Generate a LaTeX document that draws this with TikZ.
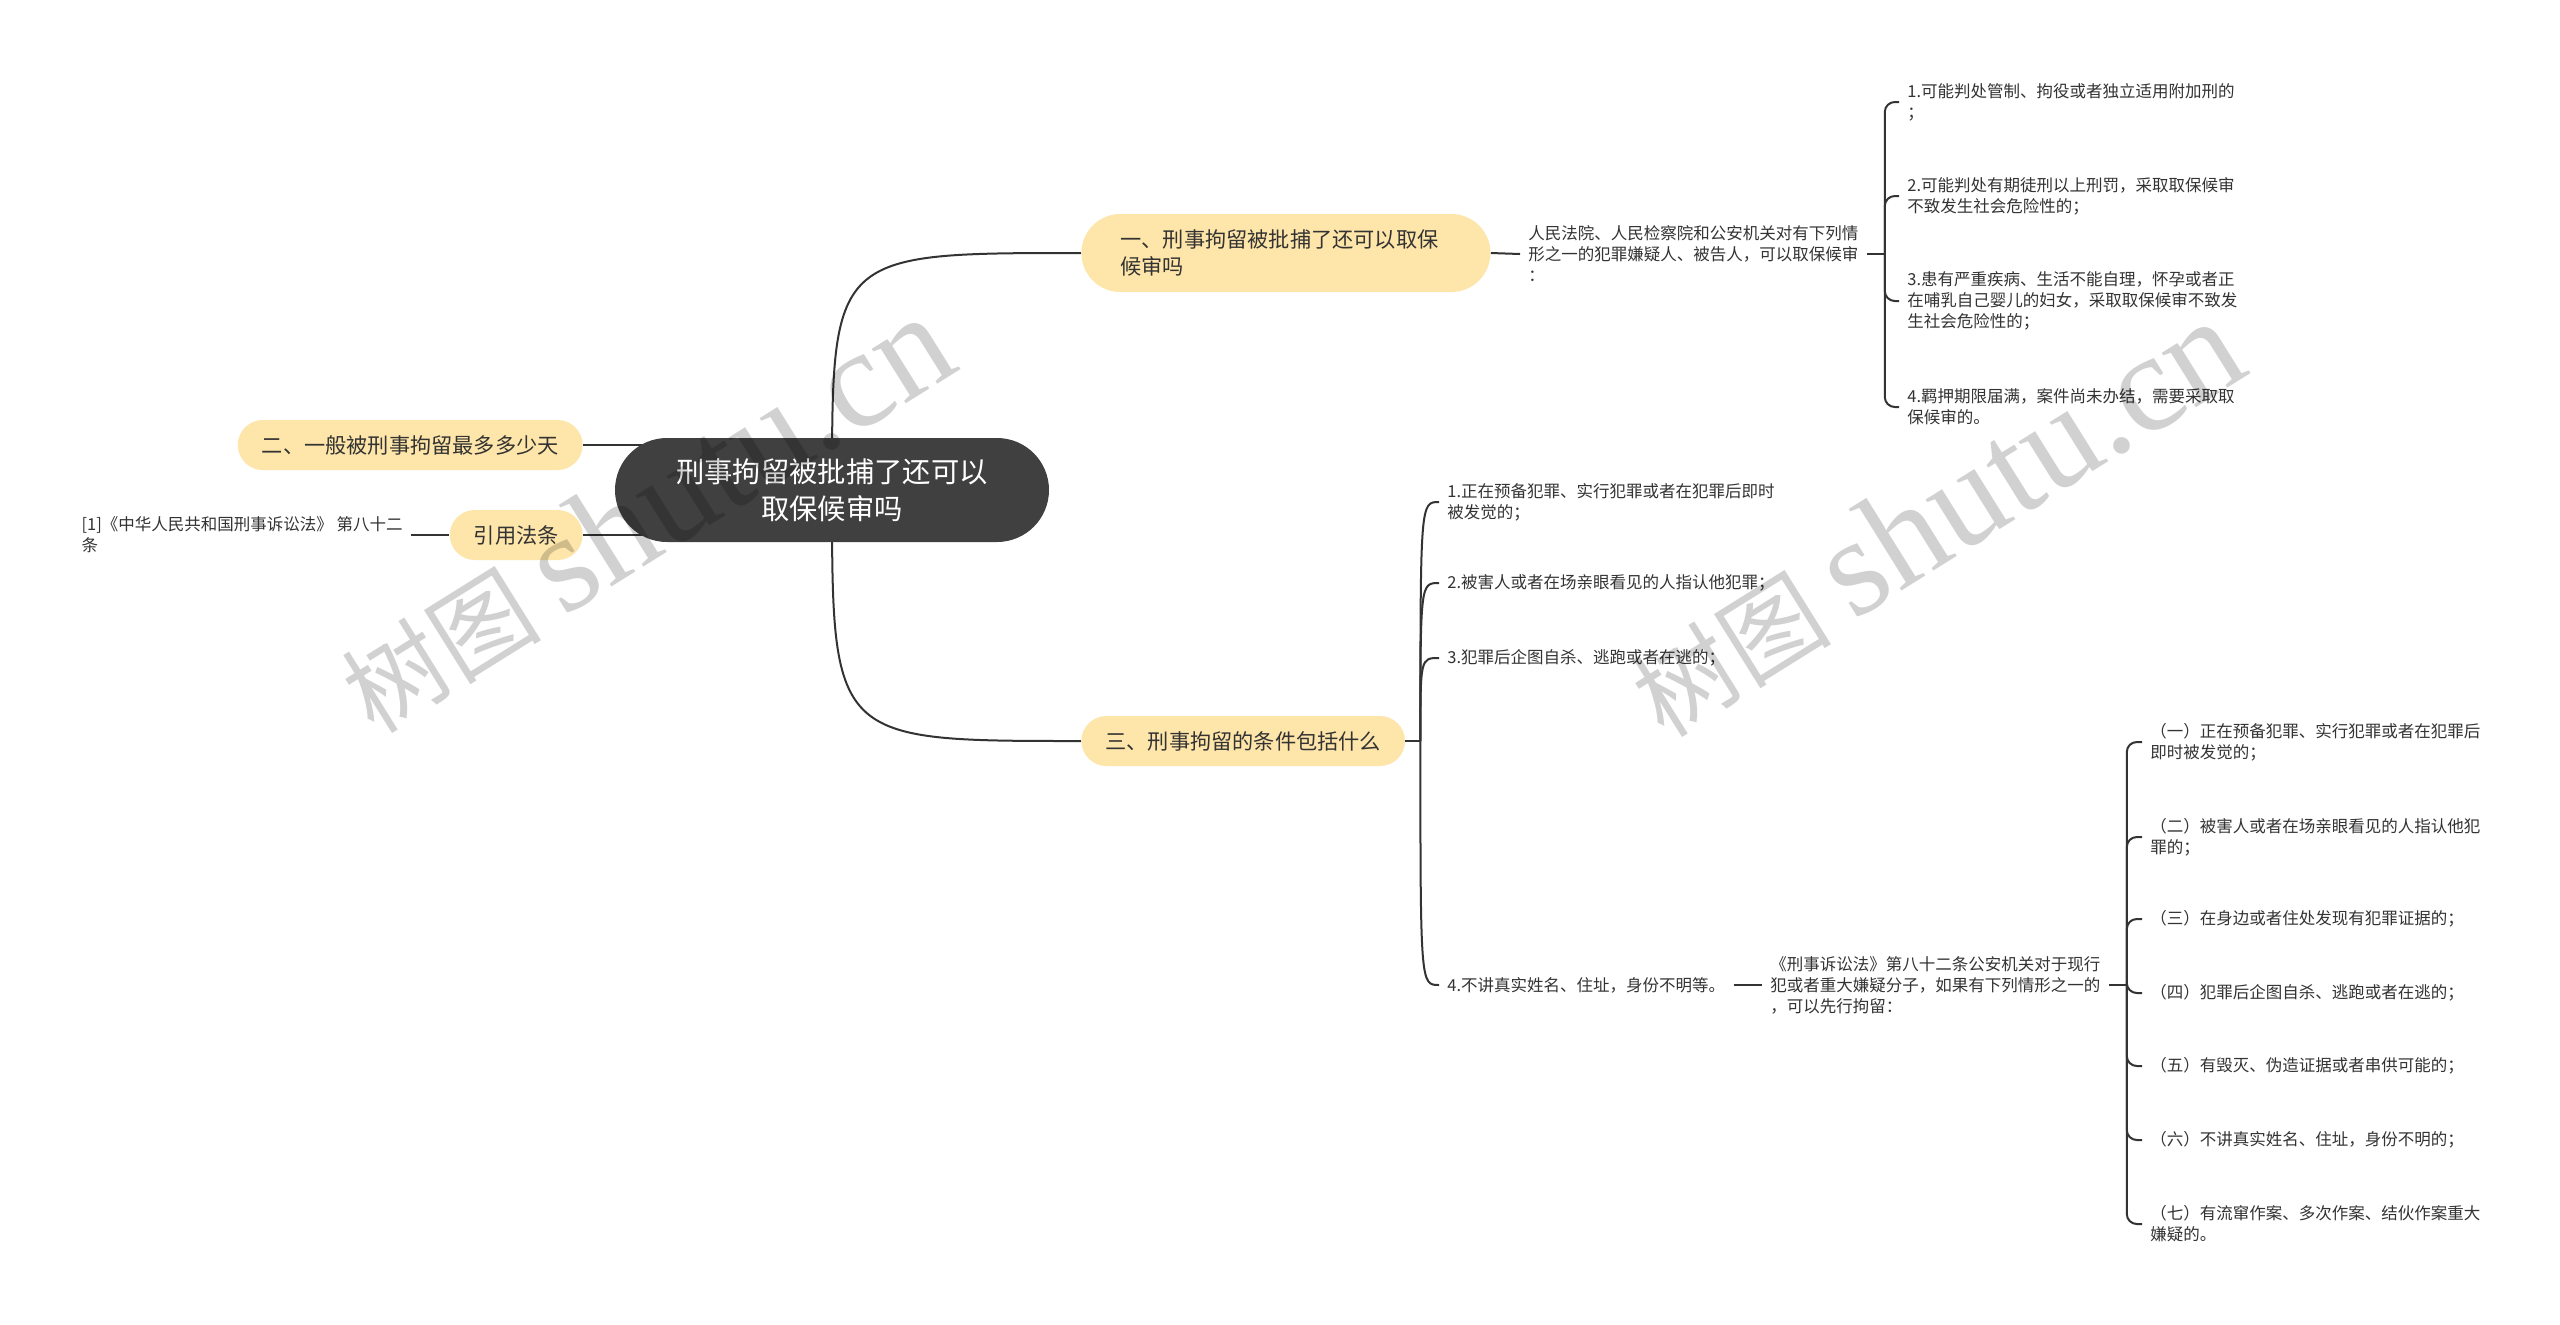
\documentclass[tikz,border=0pt]{standalone}
\usepackage{fontspec}
\setmainfont{Noto Sans CJK SC}
\newfontfamily\wmlatin{Liberation Serif}
\usetikzlibrary{backgrounds}
\definecolor{rootgray}{HTML}{404040}
\definecolor{branchyellow}{HTML}{FEE5A9}
\definecolor{inkline}{HTML}{333333}

\begin{document}
\begin{tikzpicture}[x=0.5pt,y=-0.5pt,
			rootbox/.style={fill=rootgray,text=white,rounded corners=26pt,minimum width=217pt,minimum height=52pt,inner sep=0pt,align=center,font=\fontsize{14.15pt}{18.5pt}\selectfont},
			branch/.style={fill=branchyellow,text=inkline,rounded corners=12.5pt,minimum height=25pt,inner xsep=12pt,inner ysep=0pt,font=\fontsize{10.6pt}{13.3pt}\selectfont},
			leaf/.style={text=inkline,inner xsep=4pt,inner ysep=2pt,align=left,font=\fontsize{8.25pt}{10.5pt}\selectfont},
			link/.style={draw=inkline,line width=1pt},
			watermark/.style={text=black,opacity=0.18,rotate=32,inner sep=0pt,font=\fontsize{50pt}{52pt}\selectfont}]
			
			\useasboundingbox (0,0) rectangle (2560,1324);
			
			% Central topic
			\node[rootbox] (root) at (832,490) {刑事拘留被批捕了还可以\\取保候审吗};
			
			% Main branches
			\node[branch,anchor=west,text width=165.5pt,inner xsep=19.5pt,minimum height=39pt,rounded corners=19.5pt,align=left] (b1) at (1081,253) {一、刑事拘留被批捕了还可以取保\\候审吗};
			\node[branch,anchor=east] (b2) at (583,445) {二、一般被刑事拘留最多多少天};
			\node[branch,anchor=east] (cite) at (583,535) {引用法条};
			\node[branch,anchor=west] (b3) at (1081,741) {三、刑事拘留的条件包括什么};
			
			% Cited law
			\node[leaf,anchor=east] (citetxt) at (411,535) {[1]《中华人民共和国刑事诉讼法》 第八十二\\条};
			
			% Branch one: conditions for bail
			\node[leaf,anchor=west] (t1) at (1520,254) {人民法院、人民检察院和公安机关对有下列情\\形之一的犯罪嫌疑人、被告人，可以取保候审\\：};
			\foreach \i/\y/\txt in {1/102/{1.可能判处管制、拘役或者独立适用附加刑的\\；},
				2/196/{2.可能判处有期徒刑以上刑罚，采取取保候审\\不致发生社会危险性的；},
				3/301/{3.患有严重疾病、生活不能自理，怀孕或者正\\在哺乳自己婴儿的妇女，采取取保候审不致发\\生社会危险性的；},
				4/407/{4.羁押期限届满，案件尚未办结，需要采取取\\保候审的。}}{
				\node[leaf,anchor=west] (c\i) at (1899,\y) {\txt};
			}
			
			% Branch three: conditions for detention
			\foreach \i/\y/\txt in {1/502/{1.正在预备犯罪、实行犯罪或者在犯罪后即时\\被发觉的；},
				2/583/{2.被害人或者在场亲眼看见的人指认他犯罪；},
				3/658/{3.犯罪后企图自杀、逃跑或者在逃的；},
				4/985/{4.不讲真实姓名、住址，身份不明等。}}{
				\node[leaf,anchor=west] (d\i) at (1439,\y) {\txt};
			}
			\node[leaf,anchor=west] (e1) at (1762,985) {《刑事诉讼法》第八十二条公安机关对于现行\\犯或者重大嫌疑分子，如果有下列情形之一的\\，可以先行拘留：};
			\foreach \i/\y/\txt in {1/742/{（一）正在预备犯罪、实行犯罪或者在犯罪后\\即时被发觉的；},
				2/837/{（二）被害人或者在场亲眼看见的人指认他犯\\罪的；},
				3/919/{（三）在身边或者住处发现有犯罪证据的；},
				4/993/{（四）犯罪后企图自杀、逃跑或者在逃的；},
				5/1066/{（五）有毁灭、伪造证据或者串供可能的；},
				6/1140/{（六）不讲真实姓名、住址，身份不明的；},
				7/1224/{（七）有流窜作案、多次作案、结伙作案重大\\嫌疑的。}}{
				\node[leaf,anchor=west] (f\i) at (2142,\y) {\txt};
			}
			
			% Connectors from the central topic, behind the boxes
			\begin{scope}[on background layer]
				\fill[white] (0,0) rectangle (2560,1324);
				\draw[link] (root.center) .. controls (root.center |- b1.west) .. (b1.west);
				\draw[link] (root.center) .. controls (root.center |- b3.west) .. (b3.west);
				\draw[link] (b2.east) -- (b2.east -| root.center);
				\draw[link] (cite.east) -- (cite.east -| root.center);
			\end{scope}
			
			% Short links
			\draw[link] (citetxt.east) -- (cite.west);
			\draw[link] (b1.east) -- (t1.west);
			\draw[link] (d4.east) -- (e1.west);
			
			% Bracket for branch one
			\coordinate (tj) at ([xshift=9pt]t1.east);
			\draw[link] (t1.east) -- (tj);
			\foreach \i in {1,2,3,4}{
				\draw[link,rounded corners=5pt] (tj) |- (c\i.west);
			}
			
			% Curved bracket for branch three
			\coordinate (dj) at ([xshift=7.5pt]b3.east);
			\draw[link] (b3.east) -- (dj);
			\foreach \i in {1,2,3,4}{
				\draw[link] (dj) .. controls (dj |- d\i.west) .. (d\i.west);
			}
			
			% Bracket for the seven cases
			\coordinate (ej) at ([xshift=9pt]e1.east);
			\draw[link] (e1.east) -- (ej);
			\foreach \i in {1,...,7}{
				\draw[link,rounded corners=5pt] (ej) |- (f\i.west);
			}
			
			% Watermarks
			\foreach \k/\wx/\wy in {1/645/514,2/1935/518}{
				\node[watermark] (wm\k) at (\wx,\wy) {树图 {\wmlatin\fontsize{70pt}{72pt}\selectfont shutu.cn}};
			}
			
		\end{tikzpicture}
\end{document}
